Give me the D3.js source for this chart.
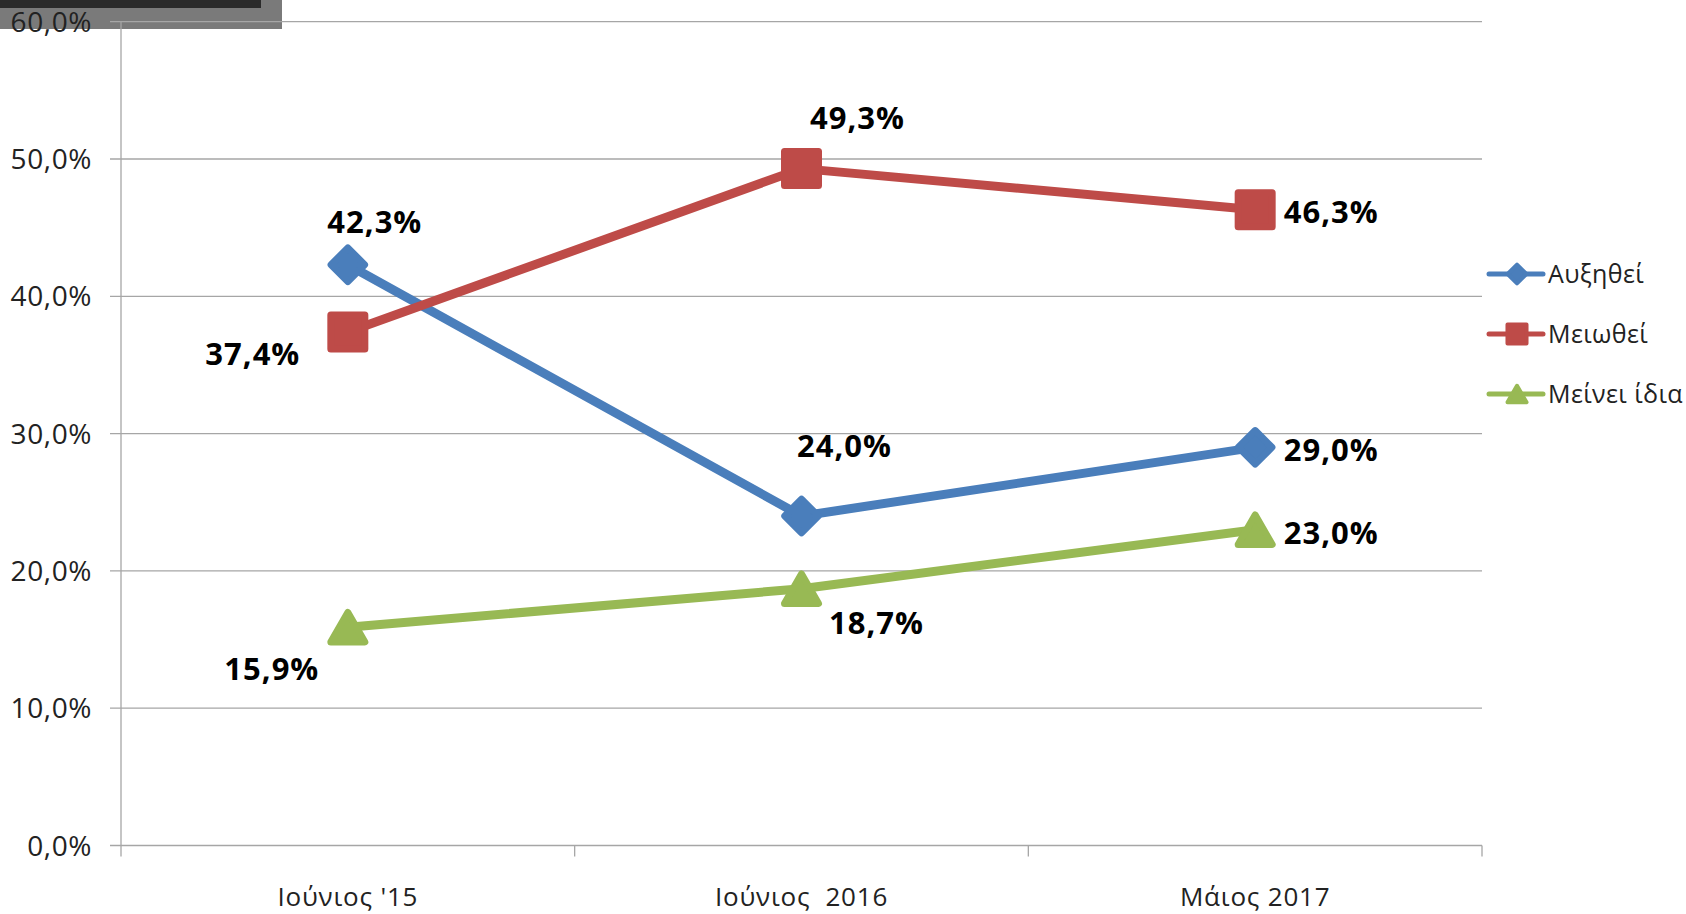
<!DOCTYPE html>
<html>
<head>
<meta charset="utf-8">
<script src="https://cdn.jsdelivr.net/npm/d3@7"></script>
<style>
  body { margin: 0; background: #fff; }
  svg { display: block; }
  text { font-family: "Open Sans", sans-serif; white-space: pre; }
</style>
</head>
<body>
<script>
// ---- data ----
const categories = ["Ιούνιος '15", "Ιούνιος  2016", "Μάιος 2017"];
const seriesNames = ["Αυξηθεί", "Μειωθεί", "Μείνει ίδια"];
const increased = [42.3, 24.0, 29.0];
const decreased = [37.4, 49.3, 46.3];
const unchanged = [15.9, 18.7, 23.0];
const yTicks = [0, 10, 20, 30, 40, 50, 60];

// ---- style ----
const colors = ["#4a7ebb", "#be4b48", "#98b954"];
const shapes = ["diamond", "square", "triangle"];
// label offsets (dx, dy of baseline) from each point, as placed in the original
const labelOffsets = [
  [[27, -32], [43, -59], [76, 14]],
  [[-95, 33], [56, -40], [76, 13]],
  [[-76, 53], [75, 45], [76, 14]]
];

const width = 1686, height = 914;
const plotLeft = 121, plotRight = 1482, plotTop = 21.7, plotBottom = 845.5;

const svg = d3.select("body").append("svg")
  .attr("width", width)
  .attr("height", height);

// dark strip in top left corner (screen-capture leftover)
svg.append("rect").attr("x", 0).attr("y", 0).attr("width", 282).attr("height", 29).attr("fill", "#7a7a7a");
svg.append("rect").attr("x", 0).attr("y", 0).attr("width", 261).attr("height", 8).attr("fill", "#2a2a2a");

const x = d3.scaleBand().domain(categories).range([plotLeft, plotRight]).padding(0);
const y = d3.scaleLinear().domain([0, 60]).range([plotBottom, plotTop]);

const pct = d3.formatLocale({decimal: ",", thousands: ".", grouping: [3], currency: ["", "€"]}).format(".1f");

// gridlines + y ticks
const grid = svg.append("g");
grid.selectAll("line").data(yTicks).enter().append("line")
  .attr("x1", plotLeft - 11).attr("x2", plotRight)
  .attr("y1", d => y(d)).attr("y2", d => y(d))
  .attr("stroke", "#a6a6a6").attr("stroke-width", 1.3);

svg.append("g").selectAll("text").data(yTicks).enter().append("text")
  .attr("x", 92).attr("y", d => y(d)).attr("dy", "0.36em")
  .attr("text-anchor", "end")
  .attr("font-size", 28).attr("letter-spacing", 0.6).attr("fill", "#222")
  .text(d => pct(d) + "%");

// y axis line
svg.append("line")
  .attr("x1", plotLeft).attr("x2", plotLeft)
  .attr("y1", y(60)).attr("y2", y(0))
  .attr("stroke", "#a6a6a6").attr("stroke-width", 1.3);

// x axis ticks between categories
const bounds = categories.map(c => x(c)).concat([plotRight]);
svg.append("g").selectAll("line").data(bounds).enter().append("line")
  .attr("x1", d => d).attr("x2", d => d)
  .attr("y1", y(0)).attr("y2", y(0) + 11)
  .attr("stroke", "#a6a6a6").attr("stroke-width", 1.3);

svg.append("g").selectAll("text").data(categories).enter().append("text")
  .attr("x", d => x(d) + x.bandwidth() / 2)
  .attr("y", 906)
  .attr("text-anchor", "middle")
  .attr("font-size", 26).attr("letter-spacing", 0.8).attr("fill", "#222")
  .text(d => d);

// markers
function markerPath(shape, scale) {
  if (shape === "square") return d3.symbol(d3.symbolSquare, 1156 * scale * scale)();
  if (shape === "diamond") return d3.symbol(d3.symbolSquare, 560 * scale * scale)();
  return d3.symbol(d3.symbolTriangle, 500 * scale * scale)();
}
function markerTransform(shape, scale) {
  if (shape === "diamond") return "rotate(45)";
  if (shape === "triangle") {
    const h = Math.sqrt(500 * scale * scale / (Math.sqrt(3) * 3));
    return "translate(0," + (h / 2) + ")";
  }
  return "";
}

const allSeries = [increased, decreased, unchanged];
const line = d3.line()
  .x((d, i) => x(categories[i]) + x.bandwidth() / 2)
  .y(d => y(d));

allSeries.forEach((vals, s) => {
  const g = svg.append("g");
  g.append("path")
    .attr("d", line(vals))
    .attr("fill", "none")
    .attr("stroke", colors[s])
    .attr("stroke-width", 9)
    .attr("stroke-linejoin", "round");

  g.selectAll(".mk").data(vals).enter().append("g")
    .attr("transform", (d, i) => "translate(" + (x(categories[i]) + x.bandwidth() / 2) + "," + y(d) + ")")
    .append("path")
    .attr("d", markerPath(shapes[s], 1))
    .attr("transform", markerTransform(shapes[s], 1))
    .attr("fill", colors[s])
    .attr("stroke", colors[s])
    .attr("stroke-width", 7)
    .attr("stroke-linejoin", "round");
});

// data labels on top
allSeries.forEach((vals, s) => {
  svg.append("g").selectAll("text").data(vals).enter().append("text")
    .attr("x", (d, i) => x(categories[i]) + x.bandwidth() / 2 + labelOffsets[s][i][0])
    .attr("y", (d, i) => y(d) + labelOffsets[s][i][1])
    .attr("text-anchor", "middle")
    .attr("font-size", 31).attr("letter-spacing", 1).attr("font-weight", "bold").attr("fill", "#000")
    .text(d => pct(d) + "%");
});

// legend
const legend = svg.append("g").attr("transform", "translate(1489,274)");
seriesNames.forEach((name, s) => {
  const row = legend.append("g").attr("transform", "translate(0," + (s * 60) + ")");
  row.append("line").attr("x1", 0).attr("x2", 54).attr("y1", 0).attr("y2", 0)
    .attr("stroke", colors[s]).attr("stroke-width", 5).attr("stroke-linecap", "round");
  row.append("g").attr("transform", "translate(28,0)")
    .append("path")
    .attr("d", markerPath(shapes[s], 0.56))
    .attr("transform", markerTransform(shapes[s], 0.56))
    .attr("fill", colors[s]).attr("stroke", colors[s])
    .attr("stroke-width", 4).attr("stroke-linejoin", "round");
  row.append("text").attr("x", 59).attr("y", 9)
    .attr("font-size", 25).attr("letter-spacing", 0.4).attr("fill", "#222")
    .text(name);
});
</script>
</body>
</html>
